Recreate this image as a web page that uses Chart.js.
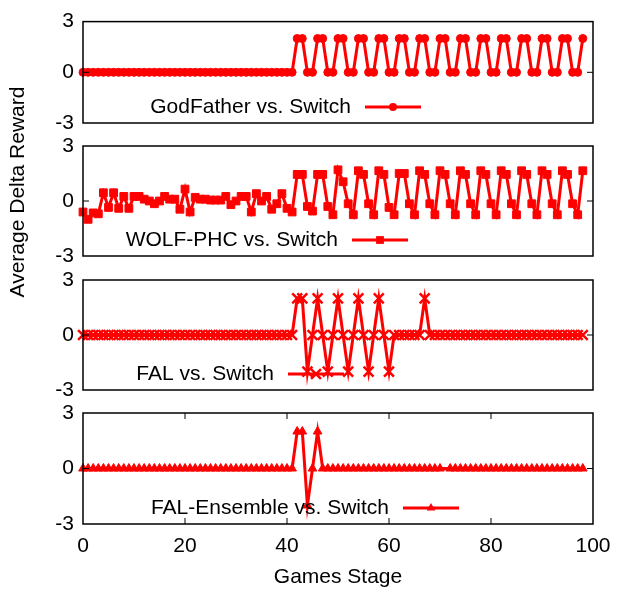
<!DOCTYPE html>
<html>
<head>
<meta charset="utf-8">
<script src="https://cdn.jsdelivr.net/npm/chart.js@4.4.1/dist/chart.umd.min.js"></script>
<style>
  body { margin: 0; background: #fff; }
  #wrap { position: relative; width: 629px; height: 591px; }
  #wrap canvas { position: absolute; left: 0; top: 0; }
</style>
</head>
<body>
<div id="wrap">
  <canvas id="p1" width="629" height="591"></canvas>
  <canvas id="p2" width="629" height="591"></canvas>
  <canvas id="p3" width="629" height="591"></canvas>
  <canvas id="p4" width="629" height="591"></canvas>
</div>
<script>
const stages = [
  0,1,2,3,4,5,6,7,8,9,
  10,11,12,13,14,15,16,17,18,19,
  20,21,22,23,24,25,26,27,28,29,
  30,31,32,33,34,35,36,37,38,39,
  40,41,42,43,44,45,46,47,48,49,
  50,51,52,53,54,55,56,57,58,59,
  60,61,62,63,64,65,66,67,68,69,
  70,71,72,73,74,75,76,77,78,79,
  80,81,82,83,84,85,86,87,88,89,
  90,91,92,93,94,95,96,97,98
];

const godFather = [
  0,0,0,0,0,0,0,0,0,0,
  0,0,0,0,0,0,0,0,0,0,
  0,0,0,0,0,0,0,0,0,0,
  0,0,0,0,0,0,0,0,0,0,
  0,0,2,2,0,0,2,2,0,0,
  2,2,0,0,2,2,0,0,2,2,
  0,0,2,2,0,0,2,2,0,0,
  2,2,0,0,2,2,0,0,2,2,
  0,0,2,2,0,0,2,2,0,0,
  2,2,0,0,2,2,0,0,2
];

const wolfPhc = [
  -0.6,-1.0,-0.65,-0.7,0.45,-0.35,0.45,-0.4,0.25,-0.4,
  0.25,0.25,0.1,0.0,-0.15,0.0,0.25,0.1,0.1,-0.45,
  0.65,-0.6,0.2,0.1,0.1,0.05,0.05,0.05,0.25,-0.2,
  0.0,0.25,0.25,-0.6,0.4,0.0,0.25,-0.45,-0.15,0.4,
  -0.4,-0.6,1.45,1.45,-0.3,-0.55,1.45,1.45,-0.3,-0.75,
  1.7,1.05,-0.15,-0.75,1.65,1.45,-0.15,-0.75,1.65,1.45,
  -0.35,-0.75,1.5,1.5,-0.15,-0.75,1.65,1.45,-0.15,-0.75,
  1.65,1.45,-0.15,-0.75,1.65,1.45,-0.15,-0.75,1.65,1.45,
  -0.15,-0.75,1.65,1.45,-0.15,-0.75,1.65,1.45,-0.15,-0.75,
  1.65,1.45,-0.15,-0.75,1.65,1.45,-0.15,-0.75,1.65
];

const fal = [
  0,0,0,0,0,0,0,0,0,0,
  0,0,0,0,0,0,0,0,0,0,
  0,0,0,0,0,0,0,0,0,0,
  0,0,0,0,0,0,0,0,0,0,
  0,0,2,2,-2,0,2,0,-2,0,
  2,0,-2,0,2,0,-2,0,2,0,
  -2,0,0,0,0,0,0,2,0,0,
  0,0,0,0,0,0,0,0,0,0,
  0,0,0,0,0,0,0,0,0,0,
  0,0,0,0,0,0,0,0,0
];

const falEnsemble = [
  0,0,0,0,0,0,0,0,0,0,
  0,0,0,0,0,0,0,0,0,0,
  0,0,0,0,0,0,0,0,0,0,
  0,0,0,0,0,0,0,0,0,0,
  0,0,2,2,-2,0,2,0,0,0,
  0,0,0,0,0,0,0,0,0,0,
  0,0,0,0,0,0,0,0,0,0,
  0,null,0,0,0,0,0,0,0,0,
  0,0,0,0,0,0,0,0,0,0,
  0,0,0,0,0,0,0,0,0
];

const yTicks = [-3, 0, 3];
const xTicks = [0, 20, 40, 60, 80, 100];
const xInnerTicks = [20, 40, 60, 80];

const RED = '#ff0000';
const FONT = '"Liberation Sans", Arial, Helvetica, sans-serif';

Chart.defaults.font.family = FONT;
Chart.defaults.font.size = 21;
Chart.defaults.color = '#000';

function drawMarker(ctx, style, r, x, y) {
  ctx.beginPath();
  if (style === 'circle') {
    ctx.arc(x, y, r, 0, Math.PI * 2);
    ctx.fill();
  } else if (style === 'rect') {
    const s = Math.SQRT1_2 * r;
    ctx.fillRect(x - s, y - s, 2 * s, 2 * s);
  } else if (style === 'crossRot') {
    const s = Math.SQRT1_2 * r;
    ctx.lineWidth = 2.5;
    ctx.moveTo(x - s, y - s); ctx.lineTo(x + s, y + s);
    ctx.moveTo(x - s, y + s); ctx.lineTo(x + s, y - s);
    ctx.stroke();
  } else if (style === 'triangle') {
    let a = 0;
    ctx.moveTo(x + Math.sin(a) * r, y - Math.cos(a) * r);
    a += Math.PI * 2 / 3;
    ctx.lineTo(x + Math.sin(a) * r, y - Math.cos(a) * r);
    a += Math.PI * 2 / 3;
    ctx.lineTo(x + Math.sin(a) * r, y - Math.cos(a) * r);
    ctx.closePath();
    ctx.fill();
  }
}

const framePlugin = {
  id: 'frame',
  afterDraw(chart, args, opts) {
    const { ctx, chartArea: a, scales } = chart;
    ctx.save();
    // border
    ctx.strokeStyle = '#000';
    ctx.lineWidth = 1.5;
    ctx.strokeRect(a.left, a.top, a.right - a.left, a.bottom - a.top);
    // inward ticks
    ctx.lineWidth = 1;
    ctx.beginPath();
    const y0 = scales.y.getPixelForValue(0);
    ctx.moveTo(a.left, y0); ctx.lineTo(a.left + 6, y0);
    ctx.moveTo(a.right, y0); ctx.lineTo(a.right - 6, y0);
    if (opts.xTicks) {
      xInnerTicks.forEach(v => {
        const px = scales.x.getPixelForValue(v);
        ctx.moveTo(px, a.bottom); ctx.lineTo(px, a.bottom - 6);
        ctx.moveTo(px, a.top); ctx.lineTo(px, a.top + 6);
      });
    }
    ctx.stroke();

    // legend
    const ly = a.bottom - 16;
    ctx.font = '21px ' + FONT;
    ctx.fillStyle = '#000';
    ctx.textAlign = 'right';
    ctx.textBaseline = 'middle';
    ctx.fillText(opts.label, opts.sampleX - 14, ly);
    ctx.strokeStyle = RED;
    ctx.fillStyle = RED;
    ctx.lineWidth = 3;
    ctx.beginPath();
    ctx.moveTo(opts.sampleX, ly);
    ctx.lineTo(opts.sampleX + 56, ly);
    ctx.stroke();
    drawMarker(ctx, opts.pointStyle, opts.radius, opts.sampleX + 28, ly);

    // axis titles
    if (opts.titles) {
      ctx.fillStyle = '#000';
      ctx.textAlign = 'center';
      ctx.textBaseline = 'middle';
      ctx.fillText('Games Stage', (a.left + a.right) / 2, 577);
      ctx.translate(18, 192);
      ctx.rotate(-Math.PI / 2);
      ctx.fillText('Average Delta Reward', 0, 0);
    }
    ctx.restore();
  }
};

function makePanel(id, values, style, radius, pointBorder, top, bottom, legend, last) {
  const xScale = {
    type: 'linear', min: 0, max: 100,
    display: !!last,
    afterBuildTicks: s => { s.ticks = xTicks.map(v => ({ value: v })); },
    grid: { display: false, drawTicks: false },
    border: { display: false },
    ticks: { padding: 10, maxRotation: 0, autoSkip: false, font: { size: 21 } }
  };
  if (last) xScale.afterFit = s => { s.height = 67; };
  new Chart(document.getElementById(id), {
    type: 'line',
    data: {
      datasets: [{
        data: stages.map((s, i) => ({ x: s, y: values[i] })),
        borderColor: RED,
        backgroundColor: RED,
        borderWidth: 3,
        pointStyle: style,
        pointRadius: radius,
        pointBorderWidth: pointBorder,
        pointBackgroundColor: RED,
        pointBorderColor: RED,
        tension: 0,
        spanGaps: true,
        clip: false
      }]
    },
    options: {
      responsive: false,
      animation: false,
      devicePixelRatio: 1,
      events: [],
      layout: { padding: { left: 0, right: 36, top: top, bottom: last ? 0 : 591 - bottom } },
      plugins: {
        legend: { display: false },
        tooltip: { enabled: false },
        frame: legend
      },
      scales: {
        x: xScale,
        y: {
          min: -3, max: 3,
          afterBuildTicks: s => { s.ticks = yTicks.map(v => ({ value: v })); },
          afterFit: s => { s.width = 83; },
          grid: { display: false, drawTicks: false },
          border: { display: false },
          ticks: { padding: 9, autoSkip: false, font: { size: 21 }, callback: v => String(v) }
        }
      }
    },
    plugins: [framePlugin]
  });
}

makePanel('p1', godFather, 'circle', 4, 1, 12, 123,
  { label: 'GodFather vs. Switch', sampleX: 365, pointStyle: 'circle', radius: 4 });
makePanel('p2', wolfPhc, 'rect', 5.5, 1, 146, 256,
  { label: 'WOLF-PHC vs. Switch', sampleX: 352, pointStyle: 'rect', radius: 5.5 });
makePanel('p3', fal, 'crossRot', 7, 2.5, 280, 390,
  { label: 'FAL vs. Switch', sampleX: 288, pointStyle: 'crossRot', radius: 7 });
makePanel('p4', falEnsemble, 'triangle', 5, 1, 413, 524,
  { label: 'FAL-Ensemble vs. Switch', sampleX: 403, pointStyle: 'triangle', radius: 5, xTicks: true, titles: true }, true);
</script>
</body>
</html>
